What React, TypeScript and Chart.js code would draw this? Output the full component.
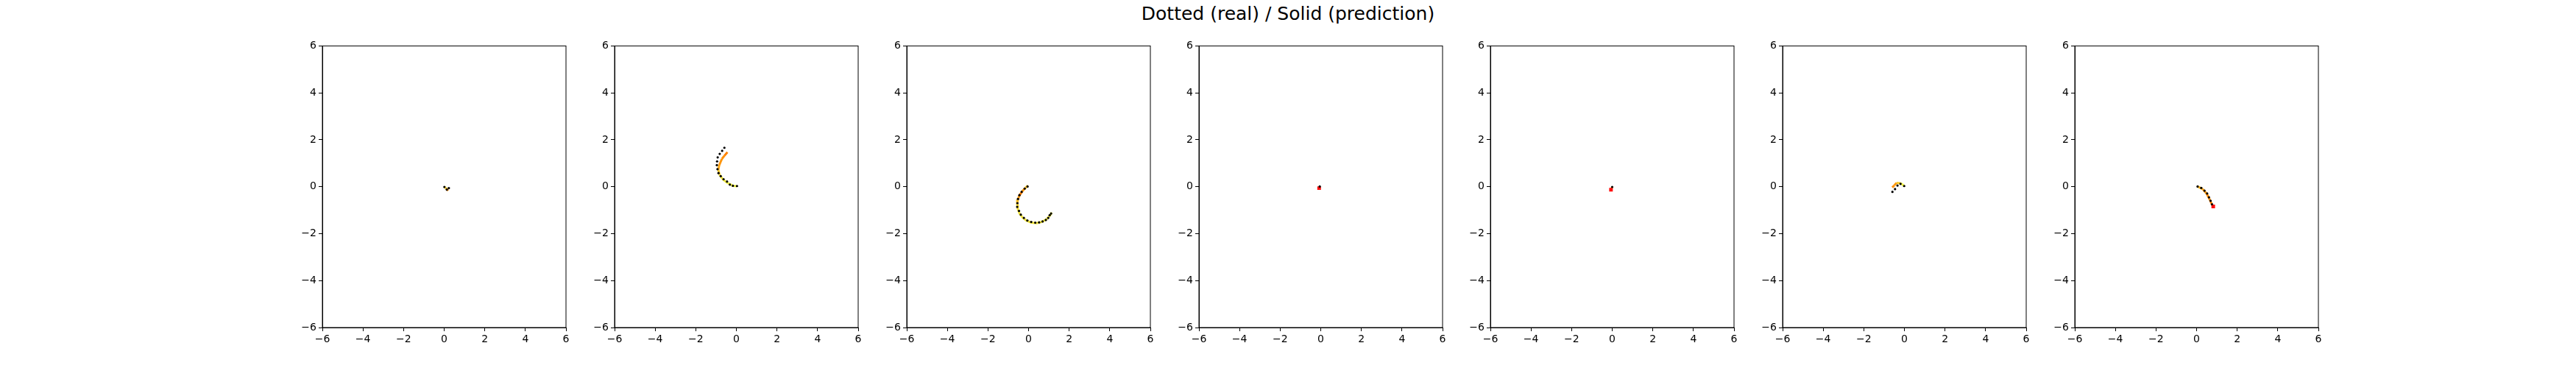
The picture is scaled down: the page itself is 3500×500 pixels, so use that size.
import React, { useEffect, useRef } from 'react';
import { Chart, registerables } from 'chart.js';

Chart.register(...registerables);

// Dotted (real) trajectories, one list per panel
const realX: number[][] = [
  [0.01, 0.13, 0.23],
  [-0.59, -0.7, -0.82, -0.92, -0.95, -0.96, -0.93, -0.88, -0.77, -0.63, -0.46, -0.32, -0.17, 0.03],
  [-0.05, -0.19, -0.34, -0.45, -0.52, -0.55, -0.56, -0.47, -0.38, -0.23, -0.06, 0.13, 0.33, 0.52, 0.69, 0.85, 0.97, 1.04, 1.11],
  [-0.05],
  [0.0],
  [-0.59, -0.46, -0.34, -0.19, -0.01],
  [0.05, 0.23, 0.39, 0.52, 0.61, 0.69, 0.76],
];
const realY: number[][] = [
  [-0.01, -0.12, -0.06],
  [1.66, 1.53, 1.4, 1.25, 1.08, 0.92, 0.75, 0.58, 0.45, 0.32, 0.22, 0.09, 0.04, 0.03],
  [0.01, -0.08, -0.22, -0.36, -0.52, -0.7, -0.86, -1.03, -1.19, -1.33, -1.44, -1.5, -1.53, -1.52, -1.48, -1.42, -1.33, -1.21, -1.14],
  [0.01],
  [-0.01],
  [-0.22, -0.1, 0.05, 0.12, 0.03],
  [0.01, -0.05, -0.17, -0.29, -0.45, -0.6, -0.75],
];

// Solid (prediction) trajectories, with a heat value per point
const predX: number[][] = [
  [0.0, 0.08, 0.15, 0.19],
  [0.03, -0.17, -0.41, -0.65, -0.83, -0.89, -0.84, -0.71, -0.59, -0.44],
  [-0.03, -0.16, -0.31, -0.44, -0.53, -0.56, -0.53, -0.44, -0.29, -0.09, 0.14, 0.39, 0.64, 0.87, 1.04, 1.14],
  [-0.05, -0.08],
  [0.0, -0.03, -0.06],
  [-0.01, -0.18, -0.39, -0.5, -0.6],
  [0.05, 0.3, 0.5, 0.65, 0.75, 0.82],
];
const predY: number[][] = [
  [0.0, -0.06, -0.12, -0.17],
  [0.02, 0.04, 0.15, 0.3, 0.51, 0.72, 0.93, 1.19, 1.32, 1.47],
  [0.05, -0.05, -0.2, -0.36, -0.55, -0.75, -0.95, -1.15, -1.32, -1.45, -1.53, -1.55, -1.5, -1.4, -1.25, -1.1],
  [0.01, -0.06],
  [-0.01, -0.07, -0.13],
  [0.03, 0.15, 0.16, 0.05, -0.03],
  [0.01, -0.1, -0.3, -0.55, -0.75, -0.84],
];
const predHeat: number[][] = [
  [0.1, 0.3, 0.6, 0.9],
  [0.1, 0.1, 0.1, 0.15, 0.2, 0.4, 0.7, 0.85, 0.9, 1.0],
  [0.3, 0.5, 0.8, 1.0, 0.8, 0.5, 0.3, 0.2, 0.2, 0.2, 0.2, 0.2, 0.2, 0.2, 0.2, 0.1],
  [0.3, 1.0],
  [0.1, 0.5, 1.0],
  [0.1, 0.1, 0.4, 0.8, 0.9],
  [0.1, 0.6, 0.8, 0.9, 1.0, 1.0],
];
const endMarker = [false, false, false, true, true, false, true];

const axisTicks = [-6, -4, -2, 0, 2, 4, 6];

const heatColor = (v: number) => {
  // light yellow -> orange
  const a = [240, 255, 80];
  const b = [255, 130, 0];
  const c = a.map((ch, i) => Math.round(ch + (b[i] - ch) * Math.min(1, Math.max(0, v))));
  return `rgb(${c[0]},${c[1]},${c[2]})`;
};

const frame = {
  id: 'frame',
  afterDraw(chart: Chart) {
    const { ctx, chartArea: a } = chart;
    ctx.save();
    ctx.strokeStyle = '#000';
    ctx.lineWidth = 1;
    ctx.strokeRect(a.left, a.top, a.right - a.left, a.bottom - a.top);
    ctx.restore();
  },
};

const YW = 46;

const Panel: React.FC<{ idx: number; left: number }> = ({ idx, left }) => {
  const ref = useRef<HTMLCanvasElement | null>(null);
  useEffect(() => {
    if (!ref.current) return;
    const heat = predHeat[idx];
    const pred = predX[idx].map((x, i) => ({ x, y: predY[idx][i] }));
    const real = realX[idx].map((x, i) => ({ x, y: realY[idx][i] }));
    const last = pred[pred.length - 1];
    const scaleOpts = (axis: 'x' | 'y') => ({
      type: 'linear' as const,
      min: -6,
      max: 6,
      afterBuildTicks: (s: any) => { s.ticks = axisTicks.map(v => ({ value: v })); },
      afterFit: (s: any) => { if (axis === 'y') s.width = YW; else s.height = 30; },
      grid: { drawOnChartArea: false, drawTicks: true, tickLength: 5, color: '#000' },
      border: { color: '#000', width: 1 },
      ticks: {
        color: '#000',
        font: { family: 'DejaVu Sans', size: 14 },
        padding: 3,
        maxRotation: 0,
        callback: (v: any) => String(v).replace('-', '\u2212'),
      },
    });
    const chart = new Chart(ref.current, {
      type: 'scatter',
      data: {
        datasets: [
          {
            data: real,
            pointRadius: 1.6,
            pointBackgroundColor: '#000',
            pointBorderWidth: 0,
            showLine: false,
            order: 0,
          },
          {
            data: endMarker[idx] ? [last] : [],
            pointStyle: 'rect',
            pointRadius: 3.5,
            pointBackgroundColor: '#ff1010',
            pointBorderWidth: 0,
            order: 1,
          },
          {
            data: pred,
            showLine: true,
            pointRadius: 0,
            borderWidth: 3,
            borderColor: heatColor(heat[0]),
            segment: { borderColor: (c: any) => heatColor(heat[c.p1DataIndex]) },
            order: 2,
          },
        ],
      },
      options: {
        animation: false,
        responsive: false,
        maintainAspectRatio: false,
        layout: { padding: { top: 10, right: 12, left: 0, bottom: 0 } },
        plugins: { legend: { display: false }, tooltip: { enabled: false } },
        scales: { x: scaleOpts('x'), y: scaleOpts('y') },
      },
      plugins: [frame],
    });
    return () => chart.destroy();
  }, [idx]);
  return (
    <canvas
      ref={ref}
      width={YW + 343}
      height={424}
      style={{ position: 'absolute', left: left - YW, top: 51, width: YW + 343, height: 424 }}
    />
  );
};

const panelLefts = [438, 835, 1232, 1629, 2025, 2422, 2819];

export default function App() {
  useEffect(() => {
    document.body.style.margin = '0';
  }, []);
  return (
    <div style={{ position: 'relative', width: 3500, height: 500, background: '#fff' }}>
      <div
        style={{
          position: 'absolute',
          top: 4,
          left: 0,
          width: 3500,
          textAlign: 'center',
          fontFamily: 'DejaVu Sans',
          fontSize: 25,
          color: '#000',
        }}
      >
        Dotted (real) / Solid (prediction)
      </div>
      {panelLefts.map((l, i) => (
        <Panel key={i} idx={i} left={l} />
      ))}
    </div>
  );
}
